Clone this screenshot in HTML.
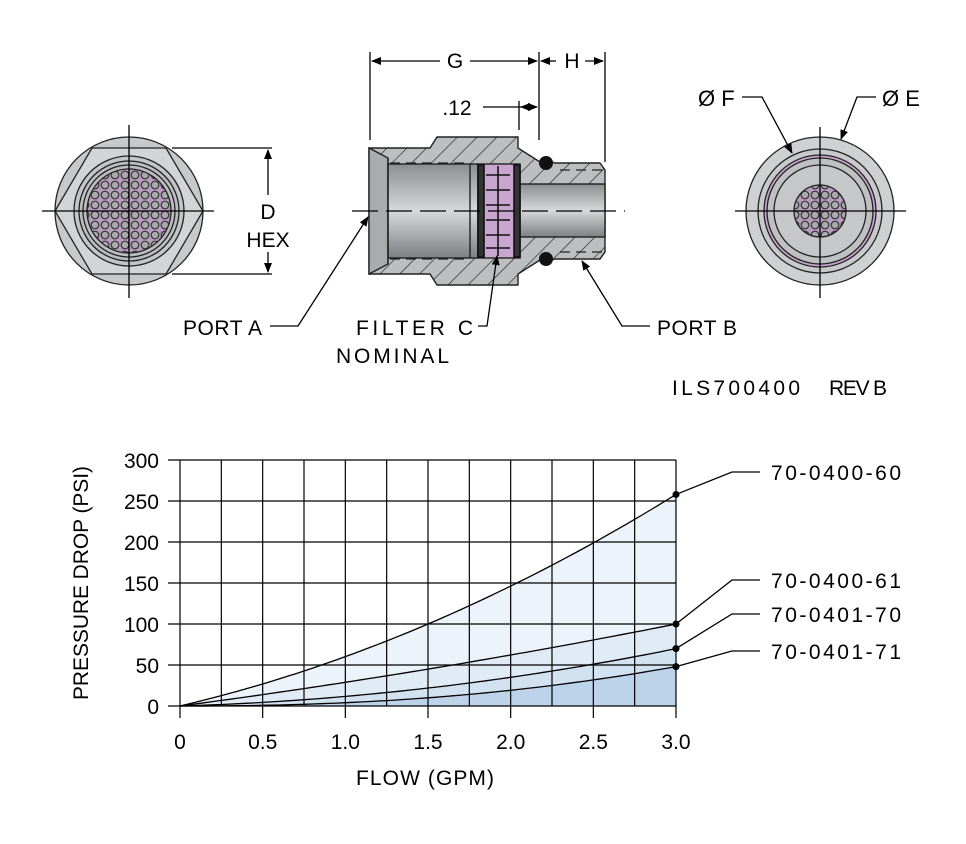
<!DOCTYPE html>
<html><head><meta charset="utf-8"><style>
html,body{margin:0;padding:0;background:#fff;}
svg{display:block;font-family:"Liberation Sans",sans-serif;}
</style></head><body>
<svg id="s" width="966" height="844" viewBox="0 0 966 844" xmlns="http://www.w3.org/2000/svg">
<defs>
<pattern id="hatch" width="14" height="14" patternUnits="userSpaceOnUse" patternTransform="rotate(45)">
<rect width="14" height="14" fill="#bdbec0"/><line x1="0" y1="0" x2="0" y2="14" stroke="#222" stroke-width="1.3"/>
</pattern>
<linearGradient id="bore" x1="0" y1="0" x2="0" y2="1">
<stop offset="0" stop-color="#8c8e91"/><stop offset="0.5" stop-color="#d6d8da"/><stop offset="1" stop-color="#7d7f82"/>
</linearGradient>
<pattern id="mesh" width="10" height="10" patternUnits="userSpaceOnUse">
<rect width="10" height="10" fill="#b89cbf"/><circle cx="5" cy="5" r="3.8" fill="#a9aaac" stroke="#333" stroke-width="1.2"/>
</pattern>
<marker id="ar" markerWidth="10" markerHeight="8" refX="9" refY="4" orient="auto" markerUnits="userSpaceOnUse"><path d="M0,0 L10,4 L0,8 z" fill="#000"/></marker>
</defs>

<!-- LEFT VIEW -->
<g stroke="#222" stroke-width="1.3">
<circle cx="129" cy="211" r="74" fill="#c8c9cb"/>
<polygon points="55,211 92,148 166,148 203,211 166,274 92,274" fill="#d3d4d5"/>
<circle cx="129" cy="211" r="55" fill="#c4c5c7"/>
<circle cx="129" cy="211" r="50" fill="#bcbdbf"/>
<circle cx="129" cy="211" r="46" fill="none"/>
<circle cx="129" cy="211" r="42" fill="url(#mesh)"/>
</g>
<g stroke="#000" stroke-width="1.3">
<line x1="42" y1="211" x2="214" y2="211"/><line x1="129" y1="125" x2="129" y2="298"/>
<line x1="172" y1="148" x2="272" y2="148"/><line x1="172" y1="274" x2="272" y2="274"/>
<line x1="268" y1="195" x2="268" y2="150" marker-end="url(#ar)"/>
<line x1="268" y1="252" x2="268" y2="272" marker-end="url(#ar)"/>
</g>
<text x="268" y="219" font-size="21" text-anchor="middle">D</text>
<text x="268" y="247" font-size="21" text-anchor="middle">HEX</text>

<!-- SECTION VIEW -->
<g stroke="#222" stroke-width="1.4">
<polygon points="369,148 430,148 437,137 518,137 518,148 540,162 552,162 555,163 600,163 605,170 605,252 600,259 555,259 552,260 540,260 518,274 518,285 437,285 430,274 369,274" fill="url(#hatch)"/>
<polygon points="369,148 388,158 388,264 369,274" fill="#a9abad"/>
<rect x="388" y="164" width="90" height="94" fill="url(#bore)"/>
<rect x="478" y="164" width="42" height="94" fill="#c9a6cf"/>
<rect x="520" y="184" width="85" height="53" fill="url(#bore)"/>
<line x1="388" y1="158" x2="388" y2="264"/>
<line x1="470" y1="164" x2="470" y2="258"/>
</g>
<g stroke="#111" stroke-width="1.6" fill="none">
<rect x="478" y="165" width="6" height="92" fill="#333"/>
<rect x="514" y="165" width="6" height="92" fill="#333"/>
<path d="M486,175 h24 M486,190 h24 M486,205 h24 M486,220 h24 M486,235 h24 M486,248 h24"/>
<line x1="498" y1="166" x2="498" y2="256"/>
</g>
<g stroke="#222" stroke-width="1.2" stroke-dasharray="10,6" fill="none">
<line x1="390" y1="163" x2="470" y2="163"/><line x1="390" y1="259" x2="470" y2="259"/>
<line x1="560" y1="170" x2="603" y2="170"/><line x1="560" y1="252" x2="603" y2="252"/>
</g>
<circle cx="546" cy="163" r="7" fill="#111"/><circle cx="546" cy="259" r="7" fill="#111"/>
<line x1="352" y1="211" x2="625" y2="211" stroke="#000" stroke-width="1.3" stroke-dasharray="26,8"/>
<g stroke="#000" stroke-width="1.3">
<line x1="370" y1="52" x2="370" y2="140"/><line x1="539" y1="52" x2="539" y2="140"/><line x1="605" y1="52" x2="605" y2="162"/><line x1="519" y1="101" x2="519" y2="130"/>
<line x1="440" y1="61" x2="372" y2="61" marker-end="url(#ar)"/><line x1="470" y1="61" x2="537" y2="61" marker-end="url(#ar)"/>
<line x1="556" y1="61" x2="541" y2="61" marker-end="url(#ar)"/><line x1="585" y1="61" x2="603" y2="61" marker-end="url(#ar)"/>
<line x1="483" y1="107" x2="521" y2="107"/><line x1="529" y1="107" x2="537" y2="107" marker-end="url(#ar)"/><line x1="529" y1="107" x2="521" y2="107" marker-end="url(#ar)"/>
</g>
<text x="455" y="68" font-size="21" text-anchor="middle">G</text>
<text x="572" y="68" font-size="21" text-anchor="middle">H</text>
<text x="457" y="115" font-size="21" text-anchor="middle">.12</text>

<!-- labels -->
<g stroke="#000" stroke-width="1.3" fill="none">
<path d="M270,326 H298 L368,217" marker-end="url(#ar)"/>
<path d="M478,326 H487 L497,256" marker-end="url(#ar)"/>
<path d="M650,326 H622 L582,261" marker-end="url(#ar)"/>
</g>
<g font-size="21">
<text x="183" y="335" textLength="79">PORT A</text>
<text x="356" y="335" textLength="117">FILTER C</text>
<text x="336" y="363" textLength="113">NOMINAL</text>
<text x="657" y="335" textLength="80">PORT B</text>
<text x="672" y="395" textLength="128">ILS700400</text>
<text x="829" y="395" textLength="58">REV B</text>
</g>

<!-- RIGHT VIEW -->
<g stroke="#222" stroke-width="1.3">
<circle cx="820" cy="211" r="74" fill="#cfd0d1"/>
<circle cx="820" cy="211" r="62" fill="#c8c9cb"/>
<circle cx="820" cy="211" r="56" fill="#c9a6cf"/>
<circle cx="820" cy="211" r="53" fill="#bfc0c2"/>
<circle cx="820" cy="211" r="46" fill="#c6c7c9"/>
<circle cx="820" cy="211" r="26" fill="url(#mesh)"/>
</g>
<g stroke="#000" stroke-width="1.3" fill="none">
<line x1="735" y1="211" x2="906" y2="211"/><line x1="820" y1="127" x2="820" y2="298"/>
<path d="M742,97 H762 L792,153" marker-end="url(#ar)"/>
<path d="M876,97 H857 L841,139" marker-end="url(#ar)"/>
</g>
<g font-size="22">
<text x="698" y="106">Ø F</text>
<text x="882" y="106">Ø E</text>
</g>

<!-- CHART -->
<g id="chart"></g>
</svg>
<script>
var X0=180,X1=676,Y0=706,Y1=460;
function px(x){return X0+(X1-X0)*x/3;} function py(p){return Y0-(Y0-Y1)*p/300;}
var fns=[function(x){return 47.3*x+12.9*x*x;},function(x){return 26.7*x+2.2*x*x;},function(x){return 5.9*x+5.8*x*x;},function(x){return 48*Math.pow(x/3,2.26);}];
var fills=["#edf3fa","#e1ebf6","#d3e2f1","#bcd3ea"];
var h="";
fns.forEach(function(f,i){var d="M"+px(0)+","+py(0);for(var k=1;k<=60;k++){var x=k*0.05;d+=" L"+px(x).toFixed(1)+","+py(f(x)).toFixed(1);}
h+='<path d="'+d+' L'+X1+','+Y0+' Z" fill="'+fills[i]+'"/>';});
for(var i=0;i<=12;i++){var x=X0+(X1-X0)*i/12;h+='<line x1="'+x+'" y1="'+Y1+'" x2="'+x+'" y2="'+Y0+'" stroke="#000" stroke-width="1.2"/>';}
for(var j=0;j<=6;j++){var y=py(j*50);h+='<line x1="168" y1="'+y+'" x2="'+X1+'" y2="'+y+'" stroke="#000" stroke-width="1.2"/>';
h+='<text x="159" y="'+(y+8)+'" font-size="21" text-anchor="end">'+(j*50)+'</text>';}
for(var i=0;i<=6;i++){var x=X0+(X1-X0)*i/6;h+='<line x1="'+x+'" y1="'+Y0+'" x2="'+x+'" y2="'+(Y0+12)+'" stroke="#000" stroke-width="1.2"/>';
h+='<text x="'+x+'" y="749" font-size="21" text-anchor="middle">'+(i==0?"0":(i*0.5).toFixed(1))+'</text>';}
fns.forEach(function(f){var d="M"+px(0)+","+py(0);for(var k=1;k<=60;k++){var x=k*0.05;d+=" L"+px(x).toFixed(1)+","+py(f(x)).toFixed(1);}
h+='<path d="'+d+'" fill="none" stroke="#000" stroke-width="1.3"/>';});
var L=[[258,472,"70-0400-60"],[100,580,"70-0400-61"],[70,614,"70-0401-70"],[48,651,"70-0401-71"]];
L.forEach(function(a){var y=py(a[0]);h+='<circle cx="'+X1+'" cy="'+y+'" r="3.5"/>';
h+='<path d="M'+X1+','+y+' L732,'+a[1]+' H760" fill="none" stroke="#000" stroke-width="1.3"/>';
h+='<text x="771" y="'+(a[1]+8)+'" font-size="21" textLength="130">'+a[2]+'</text>';});
h+='<text x="425" y="785" font-size="21" text-anchor="middle" textLength="138">FLOW (GPM)</text>';
h+='<text transform="translate(88,583) rotate(-90)" font-size="21" text-anchor="middle" textLength="234">PRESSURE DROP (PSI)</text>';
document.getElementById("chart").innerHTML=h;
</script>
</body></html>
